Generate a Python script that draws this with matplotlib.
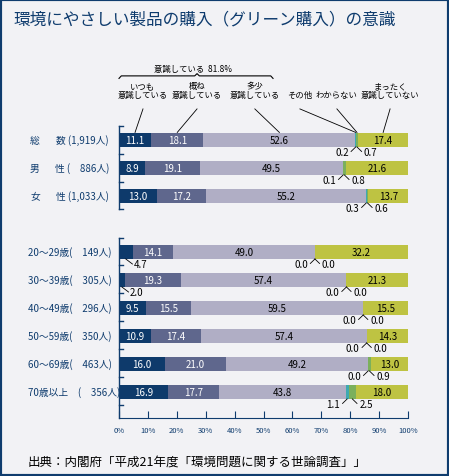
import numpy as np
import matplotlib
matplotlib.use('Agg')
import matplotlib.pyplot as plt
import matplotlib.transforms as mtransforms
from matplotlib.patches import Rectangle

plt.rcParams['font.family'] = ['Noto Sans CJK JP', 'DejaVu Sans']

NAVY = '#0f3c6e'
BG = '#f2f2f5'

# --- données (%) ---
row_names = ['総　　数', '男　　性', '女　　性', '20～29歳', '30～39歳',
             '40～49歳', '50～59歳', '60～69歳', '70歳以上']
row_counts = ['1,919', '886', '1,033', '149', '305', '296', '350', '463', '356']
row_pos = [0, 1, 2, 4, 5, 6, 7, 8, 9]

always = [11.1, 8.9, 13.0, 4.7, 2.0, 9.5, 10.9, 16.0, 16.9]
mostly = [18.1, 19.1, 17.2, 14.1, 19.3, 15.5, 17.4, 21.0, 17.7]
somewhat = [52.6, 49.5, 55.2, 49.0, 57.4, 59.5, 57.4, 49.2, 43.8]
other = [0.2, 0.1, 0.3, 0.0, 0.0, 0.0, 0.0, 0.0, 1.1]
unknown = [0.7, 0.8, 0.6, 0.0, 0.0, 0.0, 0.0, 0.9, 2.5]
never = [17.4, 21.6, 13.7, 32.2, 21.3, 15.5, 14.3, 13.0, 18.0]

series = [always, mostly, somewhat, other, unknown, never]
series_names = ['いつも\n意識している', '概ね\n意識している', '多少\n意識している',
                'その他', 'わからない', 'まったく\n意識していない']
colors = ['#0e3a6b', '#5f678d', '#b0aec5', '#3ea9b2', '#7bb05c', '#bec342']
conscious_total = 81.8

# --- figure ---
fig = plt.figure(figsize=(4.49, 4.77), dpi=100, facecolor=BG)
ax = fig.add_axes([119 / 449, 58 / 477, 289 / 449, 292 / 477])
ax.set_facecolor('none')
ax.set_xlim(0, 100)
ax.set_ylim(9.93, -0.5)

starts = []
left = np.zeros(len(row_pos))
for vals, c in zip(series, colors):
    starts.append(left.copy())
    ax.barh(row_pos, vals, left=left, height=0.5, color=c, linewidth=0)
    left = left + np.array(vals)

# valeurs dans les barres
for k, vals in enumerate(series):
    if k in (3, 4):
        continue
    tcol = 'white' if k < 2 else 'black'
    for i, y in enumerate(row_pos):
        if vals[i] >= 5:
            ax.text(starts[k][i] + vals[i] / 2, y, f'{vals[i]:.1f}',
                    ha='center', va='center', fontsize=7, color=tcol)

# petites valeurs sous les barres
for i, y in enumerate(row_pos):
    yb = y + 0.25
    cl = starts[3][i] + other[i] / 2
    cr = starts[4][i] + unknown[i] / 2
    ax.plot([cl, cl - 1.6], [yb, yb + 0.16], color='black', lw=0.6)
    ax.text(cl - 2.4, y + 0.43, f'{other[i]:.1f}', ha='right', va='center', fontsize=7)
    ax.plot([cr, cr + 1.6], [yb, yb + 0.16], color='black', lw=0.6)
    ax.text(cr + 2.4, y + 0.43, f'{unknown[i]:.1f}', ha='left', va='center', fontsize=7)
    if always[i] < 5:
        c0 = always[i] / 2
        ax.plot([c0, c0 + 2.3], [yb, yb + 0.18], color='black', lw=0.6)
        ax.text(c0 + 2.7, y + 0.43, f'{always[i]:.1f}', ha='left', va='center', fontsize=7)

# en-têtes avec traits de rappel vers la première barre
head_x = [8.3, 27, 47, 62.6, 75.4, 93.8]
for k, (name, hx) in enumerate(zip(series_names, head_x)):
    ax.text(hx, -1.45, name, ha='center', va='bottom', fontsize=6,
            linespacing=1.0, clip_on=False)
    target = starts[k][0] + series[k][0] / 2
    ax.plot([hx, target], [-1.11, -0.27], color='black', lw=0.6, clip_on=False)

# accolade "意識している"
bx = [0, 0.8, 26.2, 27, 27.8, 52.5, 53.3]
by = [-2.2, -2.29, -2.29, -2.37, -2.29, -2.29, -2.2]
ax.plot(bx, by, color='black', lw=0.8, clip_on=False)
ax.text(25.6, -2.57, f'意識している  {conscious_total}%', ha='center', va='center',
        fontsize=6, clip_on=False)

# axe gauche en deux morceaux
ax.spines['left'].set_visible(False)
ax.spines['top'].set_visible(False)
ax.spines['right'].set_visible(False)
ax.spines['bottom'].set_color(NAVY)
ax.plot([0, 0], [-0.5, 2.46], color=NAVY, lw=1, clip_on=False)
ax.plot([0, 0], [3.5, 9.93], color=NAVY, lw=1, clip_on=False)
for t in [-0.5, 0.5, 1.5, 2.46, 3.5] + [p + 0.45 for p in row_pos[3:]]:
    ax.plot([0, 1.4], [t, t], color=NAVY, lw=1, clip_on=False)

ax.set_yticks([])
ax.set_xticks(range(0, 101, 10))
ax.set_xticklabels([f'{v}%' for v in range(0, 101, 10)])
ax.tick_params(axis='x', direction='in', length=5, color=NAVY, labelsize=5.5,
               labelcolor=NAVY, pad=6)

# libellés des lignes
trans = mtransforms.blended_transform_factory(fig.transFigure, ax.transData)
for i, y in enumerate(row_pos):
    n = row_counts[i] if len(row_counts[i]) > 3 else '\u3000' + row_counts[i]
    if i < 3:
        ax.text(30 / 449, y, row_names[i][0], transform=trans, ha='left', va='center',
                fontsize=7, color=NAVY)
        ax.text(109 / 449, y, f'{row_names[i][-1]} ({n}人)', transform=trans,
                ha='right', va='center', fontsize=7, color=NAVY)
    else:
        sep = '\u3000' if row_names[i].endswith('上') else ''
        ax.text(28 / 449, y, f'{row_names[i]}{sep}({n}人)', transform=trans,
                ha='left', va='center', fontsize=7, color=NAVY)

fig.text(13 / 449, 1 - 20 / 477, '環境にやさしい製品の購入（グリーン購入）の意識',
         fontsize=12, color=NAVY, va='center', ha='left')
fig.text(28 / 449, 1 - 462 / 477, '出典：内閣府「平成21年度「環境問題に関する世論調査」」',
         fontsize=9, color='black', va='center', ha='left')

fig.patches.append(Rectangle((0, 0), 1, 1, transform=fig.transFigure, fill=False,
                             edgecolor=NAVY, lw=3))

fig.savefig('out.png', dpi=100, facecolor=BG)
plt.close(fig)
